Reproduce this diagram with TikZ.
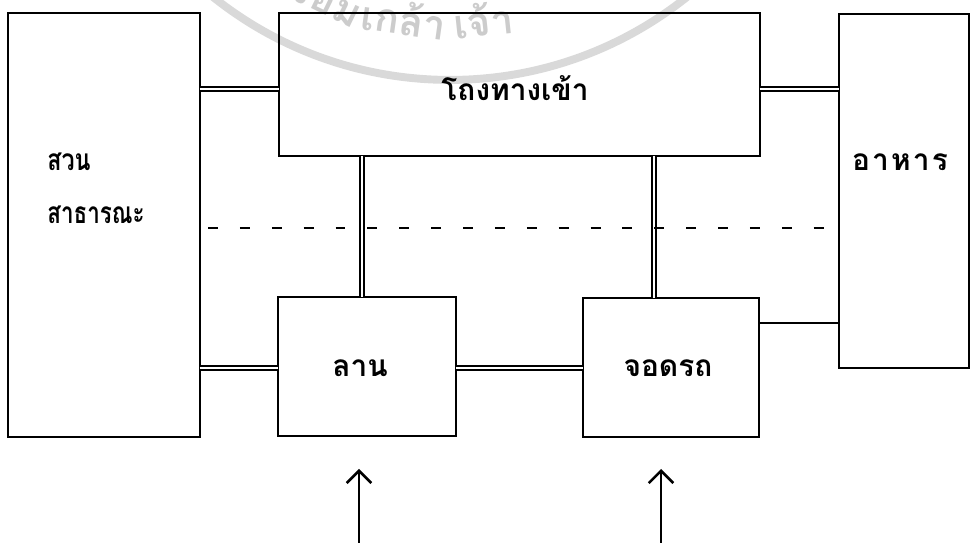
\documentclass[tikz,border=0pt]{standalone}
\usepackage{fontspec}
\newfontfamily\thaifont[Script=Thai]{Loma}
\newfontfamily\thaiwide[Script=Thai,LetterSpace=7]{Loma}
\newfontfamily\wmfont[Script=Thai]{Loma}
\usetikzlibrary{arrows.meta}
\newdimen\pgfunit \pgfunit=0.567pt
\tikzset{
  box/.style={draw, line width=1.2pt, inner sep=0pt, outer sep=0pt},
  lbl/.style={inner sep=0pt, font=\thaifont\fontsize{17}{20}\selectfont\bfseries},
  lblwide/.style={inner sep=0pt, font=\thaiwide\fontsize{17}{20}\selectfont\bfseries},
  dbl/.style={draw, line width=0.9pt, double=white, double distance=1.5pt},
  sgl/.style={draw, line width=1.2pt},
  dashline/.style={draw, line width=1.4pt, dash pattern=on 10\pgfunit off 22\pgfunit},
  uparrow/.style={draw, line width=1.3pt, -{Straight Barb[length=7pt,width=14pt,line width=1.5pt]}},
  wm/.style={gray!30, line width=4.5pt},
  wmtext/.style={text=gray!40, inner sep=0pt, font=\wmfont\fontsize{23}{25}\selectfont\bfseries}
}
\begin{document}
\begin{tikzpicture}[x=0.02cm, y=-0.02cm]
\useasboundingbox (0,0) rectangle (971,543);
% watermark
\begin{scope}
\clip (0,0) rectangle (971,543);
\draw[wm] (450,-300) circle[radius=7.6cm];
\node[wmtext, anchor=base, rotate=-26] (wm1) at (300,3) {ระจอม};
\node[wmtext, anchor=base, rotate=-8] (wm2) at (402,35) {เกล้า};
\node[wmtext, anchor=base, rotate=6] (wm3) at (485,36) {เจ้า};
\end{scope}
% boxes
\node[box, minimum width=3.84cm, minimum height=8.48cm] (L) at (104,225) {};
\node[box, minimum width=9.62cm, minimum height=2.86cm] (T) at (519.5,84.5) {};
\node[box, minimum width=2.6cm, minimum height=7.08cm] (R) at (904,191) {};
\node[box, minimum width=3.56cm, minimum height=2.78cm] (A) at (367,366.5) {};
\node[box, minimum width=3.52cm, minimum height=2.78cm] (P) at (671,367.5) {};
% labels
\node[lbl, anchor=west] (Lt1) at (47,162) {\scalebox{0.78}[1]{สวน}};
\node[lbl, anchor=west] (Lt2) at (47,215) {\scalebox{0.75}[1]{สาธารณะ}};
\node[lbl] (Tt) at (515,88) {โถงทางเข้า};
\node[lblwide] (Rt) at (900,162) {อาหาร};
\node[lbl] (At) at (360,368) {ลาน};
\node[lbl] (Pt) at (668,368) {จอดรถ};
% helper coordinates
\coordinate (y89) at (0,89);
\coordinate (y368) at (0,368);
\coordinate (y323) at (0,323);
\coordinate (x362) at (362,0);
\coordinate (x654) at (654,0);
% connectors
\draw[dbl] (L.east |- y89) -- (T.west |- y89);
\draw[dbl] (T.east |- y89) -- (R.west |- y89);
\draw[dbl] (L.east |- y368) -- (A.west |- y368);
\draw[dbl] (A.east |- y368) -- (P.west |- y368);
\draw[dbl] (T.south -| x362) -- (A.north -| x362);
\draw[dbl] (T.south -| x654) -- (P.north -| x654);
\draw[sgl] (P.east |- y323) -- (R.west |- y323);
% dashed line
\coordinate (d1) at (208,228);
\coordinate (d2) at (832,228);
\draw[dashline] (d1) -- (d2);
% arrows
\coordinate (a1s) at (359,545);
\coordinate (a1e) at (359,469);
\coordinate (a2s) at (661,545);
\coordinate (a2e) at (661,469);
\draw[uparrow] (a1s) -- (a1e);
\draw[uparrow] (a2s) -- (a2e);
\end{tikzpicture}
\end{document}
